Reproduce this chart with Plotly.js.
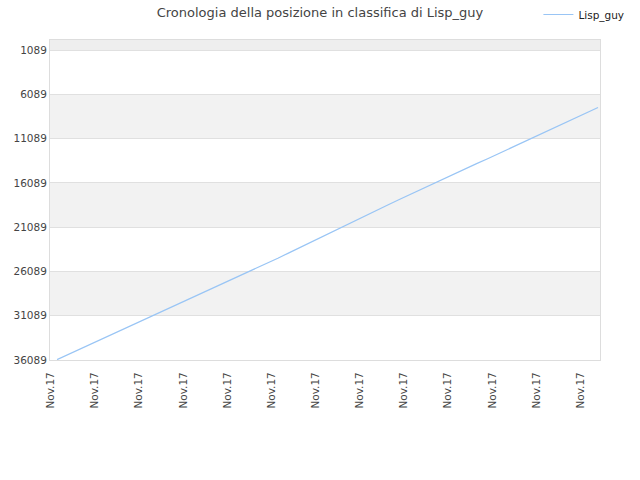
<!DOCTYPE html>
<html>
<head>
<meta charset="utf-8">
<script src="https://cdn.plot.ly/plotly-3.0.1.min.js"></script>
<style>
  body { margin: 0; background: #fff; }
  #chart { width: 640px; height: 480px; }
</style>
</head>
<body>
<div id="chart"></div>
<script>
// rank per day (lower is better, axis is reversed)
const playerName = 'Lisp_guy'
const dayLabels = [
    'Nov.17', 'Nov.17', 'Nov.17', 'Nov.17', 'Nov.17', 'Nov.17', 'Nov.17', 'Nov.17', 'Nov.17', 'Nov.17',
    'Nov.17', 'Nov.17', 'Nov.17', 'Nov.17', 'Nov.17', 'Nov.17', 'Nov.17', 'Nov.17', 'Nov.17', 'Nov.17',
    'Nov.17', 'Nov.17', 'Nov.17', 'Nov.17', 'Nov.17', 'Nov.17', 'Nov.17', 'Nov.17', 'Nov.17', 'Nov.17',
    'Nov.17', 'Nov.17', 'Nov.17', 'Nov.17', 'Nov.17', 'Nov.17', 'Nov.17', 'Nov.17', 'Nov.17', 'Nov.17',
    'Nov.17', 'Nov.17', 'Nov.17', 'Nov.17', 'Nov.17', 'Nov.17', 'Nov.17', 'Nov.17', 'Nov.17', 'Nov.17'
]
const rankValues = [
    36050, 35480, 34900, 34330, 33760, 33190, 32620, 32050, 31480, 30930,
    30360, 29790, 29220, 28650, 28080, 27520, 26960, 26400, 25820, 25210,
    24600, 23990, 23380, 22780, 22160, 21550, 20930, 20340, 19750, 19150,
    18560, 17970, 17380, 16790, 16200, 15630, 15060, 14490, 13920, 13360,
    12790, 12220, 11660, 11090, 10510, 9930, 9360, 8780, 8200, 7580
]
const rankTicks = [1089, 6089, 11089, 16089, 21089, 26089, 31089, 36089]
const labelEvery = 4

let xIdx = dayLabels.map((d, i) => i)
// the rotated labels sit a little left of their day
let xTickIdx = xIdx.filter(i => i % labelEvery == 0)
let xTickVals = xTickIdx.map(i => i - 0.58)
let xTickText = xTickIdx.map(i => dayLabels[i])

let yTop = -40
let yBottom = rankTicks[rankTicks.length - 1]

// alternating background bands between the grid lines
let shapes = []
shapes.push({
    type: 'rect', xref: 'paper', yref: 'y', x0: 0, x1: 1,
    y0: yTop, y1: rankTicks[0], fillcolor: '#eeeeee', line: { width: 0 }, layer: 'below'
})
for (let i = 1; i < rankTicks.length - 1; i += 2) {
    shapes.push({
        type: 'rect', xref: 'paper', yref: 'y', x0: 0, x1: 1,
        y0: rankTicks[i], y1: rankTicks[i + 1], fillcolor: '#f2f2f2', line: { width: 0 }, layer: 'below'
    })
}

let trace = {
    x: xIdx,
    y: rankValues,
    mode: 'lines',
    name: playerName,
    line: { color: '#99c5f5', width: 1.2 },
    hoverinfo: 'y'
}

let font = { family: 'DejaVu Sans, Verdana, sans-serif', size: 10.5, color: '#444' }

let layout = {
    width: 640,
    height: 480,
    margin: { l: 50, r: 40, t: 40, b: 120, autoexpand: false },
    paper_bgcolor: '#fff',
    plot_bgcolor: '#fff',
    font: font,
    title: {
        text: 'Cronologia della posizione in classifica di ' + playerName,
        font: { family: font.family, size: 13, color: '#444' },
        x: 0.5, xanchor: 'center', y: 0.975, yanchor: 'middle'
    },
    showlegend: true,
    legend: {
        x: 0.888, xanchor: 'left', y: 1.125, yanchor: 'top',
        itemwidth: 30,
        font: { family: font.family, size: 10.5, color: '#222' },
        bgcolor: 'rgba(0,0,0,0)'
    },
    xaxis: {
        range: [-0.64, 49.18],
        tickvals: xTickVals,
        ticktext: xTickText,
        tickangle: -90,
        ticklabelstandoff: 7,
        showgrid: false,
        zeroline: false,
        showline: true,
        mirror: true,
        linecolor: '#dddddd',
        linewidth: 1,
        ticks: '',
        tickfont: font
    },
    yaxis: {
        range: [yBottom, yTop],
        tickvals: rankTicks,
        ticktext: rankTicks.map(String),
        showgrid: true,
        gridcolor: '#e0e0e0',
        zeroline: false,
        showline: true,
        mirror: true,
        linecolor: '#dddddd',
        linewidth: 1,
        ticks: '',
        ticklen: 0,
        tickfont: font
    },
    shapes: shapes
}

Plotly.newPlot('chart', [trace], layout, { displayModeBar: false, staticPlot: true })
</script>
</body>
</html>
